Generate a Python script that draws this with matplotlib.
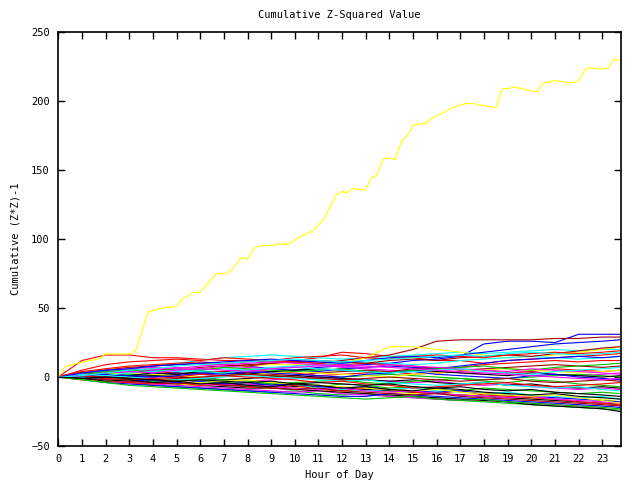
import matplotlib
matplotlib.use('Agg')
import matplotlib.pyplot as plt

# hourly readings, x = 0..23 plus the last sample at 23.75
hours = list(range(24)) + [23.75]

r1 = [0, 12, 16, 16, 14, 14, 13, 12, 12, 11, 12, 14, 18, 17, 15, 14, 12, 12, 10, 12, 13, 14, 15, 16, 17]
g1 = [0, -1, -3, -4, -6, -7, -8, -9, -10, -11, -10, -12, -13, -12, -14, -15, -16, -17, -18, -19, -20, -21, -22, -23, -24]
b1 = [0, 2, 4, 3, 5, 6, 5, 7, 8, 6, 5, 7, 8, 9, 10, 12, 13, 15, 24, 26, 26, 25, 31, 31, 31]
m1 = [0, -1, -3, -4, -5, -6, -7, -8, -9, -10, -11, -10, -12, -13, -14, -15, -16, -17, -16, -18, -19, -20, -21, -22, -20]
c1 = [0, 2, 4, 6, 8, 10, 12, 14, 15, 16, 15, 14, 13, 14, 15, 16, 17, 18, 17, 18, 19, 20, 19, 20, 20]
d1 = [0, 2, 3, 5, 6, 5, 7, 8, 9, 10, 11, 10, 12, 14, 16, 20, 26, 27, 27, 27, 27, 28, 28, 29, 29]
y1 = [0, 4, 6, 7, 7, 6, 6, 7, 8, 9, 9, 9, 10, 14, 22, 22, 20, 18, 16, 14, 15, 16, 18, 20, 22]
k1 = [0, -1, -2, -3, -4, -5, -6, -7, -8, -8, -9, -10, -11, -12, -13, -14, -15, -16, -17, -18, -20, -21, -22, -23, -25]

r2 = [0, 4, 6, 8, 9, 10, 11, 10, 11, 12, 11, 10, 9, 10, 9, 8, 6, 7, 9, 10, 11, 12, 11, 12, 12]
g2 = [0, 1, 0, -1, -2, -3, -2, -4, -5, -4, -6, -7, -5, -6, -8, -7, -9, -10, -8, -9, -10, -11, -12, -11, -12]
b2 = [0, -2, -4, -5, -6, -7, -8, -9, -10, -11, -12, -13, -14, -14, -12, -13, -14, -15, -16, -17, -18, -19, -20, -21, -22]
m2 = [0, 2, 3, 4, 5, 7, 6, 8, 7, 6, 8, 9, 7, 6, 5, 4, 5, 3, 2, 3, 4, 2, 1, 2, 3]
c2 = [0, 1, 2, 3, 2, 4, 5, 6, 5, 7, 8, 9, 10, 11, 10, 9, 10, 12, 13, 14, 15, 14, 13, 14, 15]
d2 = [0, 3, 5, 7, 8, 9, 10, 9, 8, 10, 11, 12, 11, 10, 12, 13, 12, 14, 15, 16, 15, 17, 19, 21, 22]
y2 = [0, -1, -2, -3, -4, -5, -6, -5, -7, -8, -7, -9, -10, -9, -11, -12, -11, -13, -12, -14, -15, -16, -17, -16, -18]
k2 = [0, -1, -2, -2, -3, -4, -3, -5, -6, -5, -7, -6, -8, -9, -10, -11, -12, -13, -14, -15, -16, -17, -18, -19, -20]

r3 = [0, 2, 1, 3, 4, 3, 2, 4, 5, 4, 3, 1, 2, 3, 4, 2, 3, 4, 5, 3, 4, 6, 5, 4, 5]
g3 = [0, 2, 3, 2, 1, 2, 4, 3, 2, 1, 0, -1, 0, 1, 2, 1, 0, -1, -2, -1, 0, 1, 2, 1, 0]
b3 = [0, -1, 0, 1, 2, 3, 2, 1, 3, 4, 5, 4, 6, 7, 8, 7, 6, 8, 10, 12, 13, 14, 15, 14, 15]
m3 = [0, 1, 0, -1, 0, 1, 0, -2, -3, -2, -1, 0, -1, -2, -3, -4, -3, -5, -6, -5, -7, -8, -9, -8, -9]
c3 = [0, -1, -2, -1, -3, -4, -3, -5, -6, -7, -6, -8, -9, -10, -9, -8, -10, -11, -12, -11, -13, -14, -15, -14, -16]
d3 = [0, 1, 2, 1, 0, 2, 3, 4, 3, 2, 1, 3, 4, 5, 4, 6, 7, 5, 6, 7, 8, 9, 8, 7, 8]
y3 = [0, 1, 2, 3, 2, 1, 0, 1, 2, 3, 4, 3, 2, 1, 0, 2, 3, 4, 5, 6, 5, 4, 3, 4, 5]
k3 = [0, 0, -1, 0, 1, 0, -1, -2, -1, 0, 1, 0, -1, -2, -3, -2, -4, -5, -4, -6, -5, -7, -8, -7, -8]

r4 = [0, -2, -3, -4, -5, -4, -6, -5, -7, -8, -6, -9, -10, -8, -9, -11, -12, -10, -13, -14, -15, -16, -18, -19, -20]
g4 = [0, -1, -2, -1, -3, -2, -1, -2, -3, -5, -4, -3, -2, -4, -5, -3, -2, -1, -3, -4, -2, -3, -5, -6, -7]
b4 = [0, -1, -2, -3, -2, -4, -3, -5, -4, -6, -5, -7, -8, -7, -9, -10, -11, -10, -12, -13, -14, -15, -16, -17, -18]
m4 = [0, -1, -2, -3, -4, -3, -5, -6, -5, -7, -8, -9, -8, -10, -11, -10, -12, -13, -14, -15, -14, -16, -17, -18, -19]
c4 = [0, 0, 1, 0, -1, -2, -1, 0, 1, 0, -1, -2, -3, -2, -4, -5, -6, -5, -4, -6, -7, -8, -7, -9, -10]
d4 = [0, -1, -2, -3, -4, -5, -4, -6, -7, -8, -9, -8, -10, -11, -12, -13, -12, -14, -15, -16, -17, -18, -19, -20, -21]
y4 = [0, -2, -3, -2, -1, -3, -4, -3, -2, -4, -5, -6, -7, -8, -9, -10, -9, -11, -12, -13, -14, -13, -15, -17, -19]
k4 = [0, 1, 2, 1, 3, 2, 4, 3, 2, 4, 5, 6, 5, 4, 3, 5, 4, 3, 2, 1, 3, 2, 1, 0, 1]

r5 = [0, 1, -1, -2, -1, 0, 2, 1, 0, -1, -2, -4, -3, -5, -6, -8, -7, -6, -5, -4, -6, -7, -6, -5, -4]
g5 = [0, 3, 4, 5, 4, 6, 5, 7, 6, 5, 4, 5, 6, 4, 3, 5, 6, 7, 8, 6, 5, 7, 8, 9, 10]
b5 = [0, 1, 2, 1, 0, 1, 3, 2, 4, 3, 2, 1, 0, 2, 3, 4, 2, 1, 0, -1, 1, 2, 0, -1, -2]
m5 = [0, 3, 5, 6, 7, 6, 8, 9, 10, 11, 10, 9, 8, 7, 9, 8, 7, 6, 5, 4, 6, 5, 4, 3, 2]
c5 = [0, 2, 1, 3, 4, 5, 4, 3, 5, 6, 7, 6, 5, 4, 3, 4, 5, 6, 4, 3, 2, 4, 5, 6, 7]
d5 = [0, 1, 0, -1, -2, -1, 0, 1, 2, 1, 0, -1, -2, -1, 0, -1, -2, -3, -2, -1, -3, -4, -3, -2, -3]
k5 = [0, -1, -3, -2, -4, -3, -5, -4, -6, -7, -5, -6, -8, -7, -9, -10, -8, -9, -11, -12, -13, -12, -14, -15, -16]

r6 = [0, 5, 9, 11, 12, 13, 12, 14, 13, 12, 14, 15, 16, 14, 13, 15, 16, 15, 14, 16, 17, 18, 17, 18, 19]
g6 = [0, -2, -4, -6, -7, -8, -9, -10, -11, -12, -13, -14, -15, -16, -15, -14, -16, -17, -16, -18, -19, -20, -21, -22, -23]
b6 = [0, 3, 5, 6, 8, 9, 10, 11, 12, 13, 12, 11, 10, 12, 14, 15, 14, 16, 18, 20, 22, 24, 25, 26, 27]
m6 = [0, 1, 3, 4, 3, 5, 6, 5, 4, 6, 7, 8, 9, 8, 7, 6, 5, 4, 3, 2, 1, 0, -1, -2, -1]
c6 = [0, 1, 3, 5, 6, 8, 9, 10, 11, 12, 13, 12, 11, 12, 13, 14, 15, 16, 15, 17, 18, 17, 16, 17, 18]
k6 = [0, -1, 0, -1, -2, -3, -2, -3, -4, -3, -5, -4, -5, -6, -5, -7, -8, -7, -9, -10, -9, -11, -12, -13, -14]

# the one runaway series (yellow), read more finely
big_hours = [0, 0.28, 0.78, 1.77, 1.98, 3.03, 3.28, 3.8, 4.51, 5.0, 5.22, 5.43, 5.71, 5.99,
             6.27, 6.55, 6.77, 7.05, 7.33, 7.54, 7.75, 7.99, 8.25, 8.46, 8.67, 9.09, 9.16,
             9.73, 10.08, 10.29, 10.71, 10.93, 11.2, 11.42, 11.77, 12.03, 12.19, 12.47,
             12.97, 13.25, 13.46, 13.74, 13.96, 14.24, 14.52, 14.8, 15.01, 15.5, 15.79,
             16.14, 16.7, 17.2, 17.55, 17.97, 18.51, 18.77, 19.03, 19.31, 19.59, 19.87,
             20.23, 20.51, 20.79, 21.0, 21.35, 21.78, 21.99, 22.27, 22.48, 22.83, 23.26,
             23.5, 23.72]
big_vals = [0, 7.5, 9.9, 13.5, 16.7, 16.7, 19.6, 47.3, 50.5, 51, 56.3, 58.2, 61.4, 61.4,
            66.7, 72.7, 75.6, 74.6, 77.5, 82.4, 86.7, 85.3, 93, 94.9, 95.4, 95.4, 96.4,
            96.4, 100.2, 102.2, 105.6, 108.9, 113.8, 121, 132.6, 134.6, 133.6, 136.7,
            135.5, 144.7, 146.1, 158.2, 158.9, 157.7, 171.2, 176, 183.1, 183.8, 187.5,
            190.6, 195.4, 198.3, 198.3, 196.9, 195.4, 209.2, 209.2, 210.4, 209.2, 208,
            206.8, 213.5, 214, 215.2, 214, 213.5, 214.7, 223, 224.4, 223.4, 223.9,
            230.7, 229.7]

palette = ['#ff0000', '#00c000', '#0000ff', '#ff00ff', '#00ffff', '#a00000', '#ffff00', '#000000']
series = [r1, g1, b1, m1, c1, d1, y1, k1,
          r2, g2, b2, m2, c2, d2, y2, k2,
          r3, g3, b3, m3, c3, d3, y3, k3,
          r4, g4, b4, m4, c4, d4, y4, k4,
          r5, g5, b5, m5, c5, d5, k5,
          r6, g6, b6, m6, c6, k6]
colours = [palette[i % 8] for i in range(32)] + \
          ['#ff0000', '#00c000', '#0000ff', '#ff00ff', '#00ffff', '#a00000', '#000000'] + \
          ['#ff0000', '#00c000', '#0000ff', '#ff00ff', '#00ffff', '#000000']

plt.rcParams['font.family'] = 'DejaVu Sans Mono'
plt.rcParams['font.size'] = 7.5

fig = plt.figure(figsize=(6.4, 4.8), dpi=100)
ax = fig.add_axes([58.3 / 640, 34 / 480, (620.7 - 58.3) / 640, (446 - 32.3) / 480])

for vals, col in zip(series, colours):
    ax.plot(hours, vals, color=col, lw=0.8)
ax.plot(big_hours, big_vals, color='#ffff00', lw=0.8)

ax.set_xlim(0, 23.78)
ax.set_ylim(-50, 250)
ax.set_xticks(range(24))
ax.set_yticks(range(-50, 251, 50))
ax.tick_params(direction='in', length=5, width=1, top=True, right=True, pad=6)
for s in ax.spines.values():
    s.set_linewidth(1.2)

ax.set_title('Cumulative Z-Squared Value', fontsize=7.5, pad=10)
ax.set_xlabel('Hour of Day', labelpad=4)
ax.set_ylabel('Cumulative (Z*Z)-1', labelpad=8)

fig.savefig('out.png', dpi=100)
